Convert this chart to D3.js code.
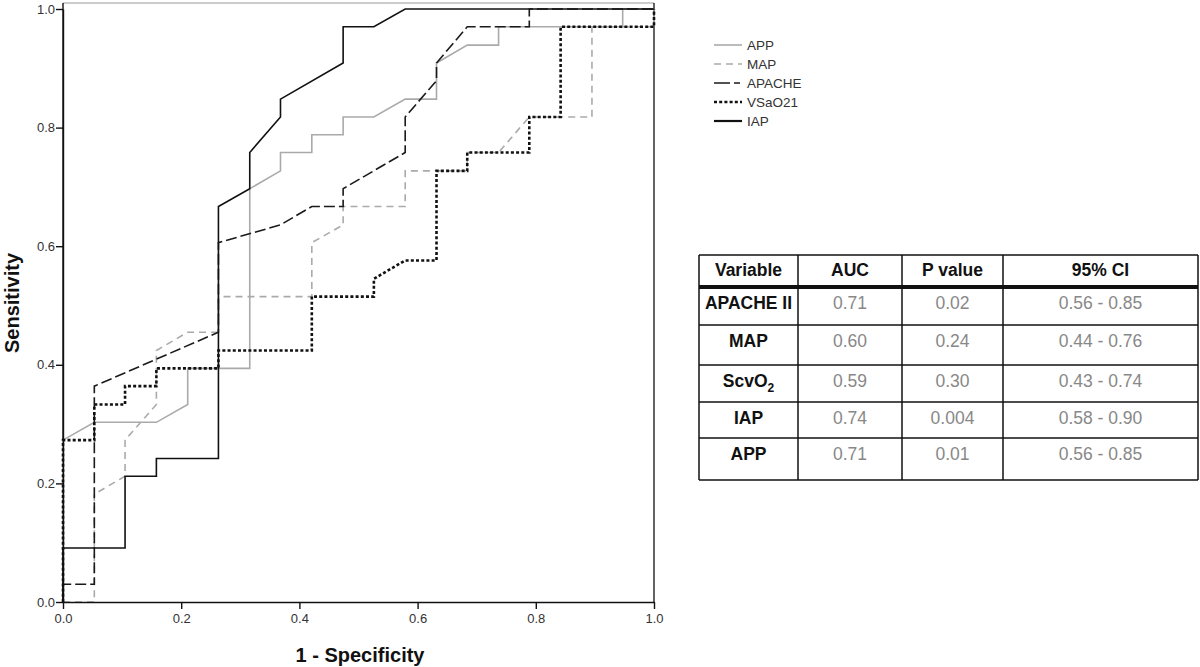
<!DOCTYPE html>
<html>
<head>
<meta charset="utf-8">
<script src="https://cdn.jsdelivr.net/npm/d3@7"></script>
<style>
  body { margin: 0; background: #fff; }
  text { font-family: "Liberation Sans", Arial, sans-serif; }
</style>
</head>
<body>
<svg width="1200" height="667"></svg>
<script>
// ===== data =====
var seriesNames = ["APP", "MAP", "APACHE", "VSaO21", "IAP"];

var appX = [0, 0, 0.053, 0.158, 0.211, 0.211, 0.316, 0.316, 0.368, 0.368, 0.421, 0.421, 0.474, 0.474, 0.526, 0.579, 0.632, 0.632, 0.684, 0.737, 0.737, 0.947, 0.947, 1];
var appY = [0, 0.273, 0.303, 0.303, 0.333, 0.394, 0.394, 0.697, 0.727, 0.758, 0.758, 0.788, 0.788, 0.818, 0.818, 0.848, 0.848, 0.909, 0.939, 0.939, 0.970, 0.970, 1, 1];

var mapX = [0, 0.053, 0.053, 0.105, 0.105, 0.158, 0.158, 0.211, 0.263, 0.263, 0.421, 0.421, 0.474, 0.474, 0.579, 0.579, 0.684, 0.684, 0.737, 0.789, 0.895, 0.895, 1, 1];
var mapY = [0, 0, 0.182, 0.212, 0.273, 0.333, 0.424, 0.455, 0.455, 0.515, 0.515, 0.606, 0.636, 0.667, 0.667, 0.727, 0.727, 0.758, 0.758, 0.818, 0.818, 0.970, 0.970, 1];

var apacheX = [0, 0, 0.053, 0.053, 0.263, 0.263, 0.368, 0.421, 0.474, 0.474, 0.579, 0.579, 0.632, 0.632, 0.684, 0.789, 0.789, 1];
var apacheY = [0, 0.030, 0.030, 0.364, 0.455, 0.606, 0.636, 0.667, 0.667, 0.697, 0.758, 0.818, 0.879, 0.909, 0.970, 0.970, 1, 1];

var vsaX = [0, 0, 0.053, 0.053, 0.105, 0.105, 0.158, 0.158, 0.263, 0.263, 0.421, 0.421, 0.526, 0.526, 0.579, 0.632, 0.632, 0.684, 0.684, 0.789, 0.789, 0.842, 0.842, 1, 1];
var vsaY = [0, 0.273, 0.273, 0.333, 0.333, 0.364, 0.364, 0.394, 0.394, 0.424, 0.424, 0.515, 0.515, 0.545, 0.576, 0.576, 0.727, 0.727, 0.758, 0.758, 0.818, 0.818, 0.970, 0.970, 1];

var iapX = [0, 0, 0.105, 0.105, 0.158, 0.158, 0.263, 0.263, 0.316, 0.316, 0.368, 0.368, 0.474, 0.474, 0.526, 0.579, 1];
var iapY = [0, 0.091, 0.091, 0.212, 0.212, 0.242, 0.242, 0.667, 0.697, 0.758, 0.818, 0.848, 0.909, 0.970, 0.970, 1, 1];

var axisTicks = [0, 0.2, 0.4, 0.6, 0.8, 1.0];

// table
var tableHeader = ["Variable", "AUC", "P value", "95% CI"];
var tableVariables = ["APACHE II", "MAP", "ScvO2", "IAP", "APP"];
var tableAuc = ["0.71", "0.60", "0.59", "0.74", "0.71"];
var tablePValues = ["0.02", "0.24", "0.30", "0.004", "0.01"];
var tableCi = ["0.56 - 0.85", "0.44 - 0.76", "0.43 - 0.74", "0.58 - 0.90", "0.56 - 0.85"];

// ===== styles =====
var styles = {
    "APP":    { color: "#aaaaaa", width: 1.6, dash: null },
    "MAP":    { color: "#aaaaaa", width: 1.6, dash: "7,5" },
    "APACHE": { color: "#1a1a1a", width: 1.6, dash: "11,4" },
    "VSaO21": { color: "#111111", width: 2.6, dash: "3,2.2" },
    "IAP":    { color: "#111111", width: 1.6, dash: null }
};

var svg = d3.select("svg");

var x = d3.scaleLinear().domain([0, 1]).range([63, 654]);
var y = d3.scaleLinear().domain([0, 1]).range([602, 9]);

var seriesX = [appX, mapX, apacheX, vsaX, iapX];
var seriesY = [appY, mapY, apacheY, vsaY, iapY];
var series = seriesNames.map(function(name, i) {
    return {
        name: name,
        points: seriesX[i].map(function(v, j) { return [v, seriesY[i][j]]; })
    };
});

/* ===== frame ===== */
svg.append("line").attr("x1", 63).attr("x2", 654).attr("y1", 3).attr("y2", 3)
    .attr("stroke", "#999").attr("stroke-width", 1.2);
svg.append("line").attr("x1", 654).attr("x2", 654).attr("y1", 3).attr("y2", 602)
    .attr("stroke", "#222").attr("stroke-width", 1.4);
svg.append("line").attr("x1", 63).attr("x2", 63).attr("y1", 3).attr("y2", 602)
    .attr("stroke", "#111").attr("stroke-width", 1.4);

/* ===== curves ===== */
var line = d3.line()
    .x(function(d) { return x(d[0]); })
    .y(function(d) { return y(d[1]); });

svg.append("g").selectAll("path")
    .data(series)
    .enter().append("path")
    .attr("d", function(d) { return line(d.points); })
    .attr("fill", "none")
    .attr("stroke", function(d) { return styles[d.name].color; })
    .attr("stroke-width", function(d) { return styles[d.name].width; })
    .attr("stroke-dasharray", function(d) { return styles[d.name].dash; });

/* ===== axes ===== */
var fmt = d3.format(".1f");

var xAxis = svg.append("g")
    .attr("transform", "translate(0,602)")
    .call(d3.axisBottom(x).tickValues(axisTicks).tickFormat(fmt).tickSize(7).tickSizeOuter(0));

var yAxis = svg.append("g")
    .attr("transform", "translate(63,0)")
    .call(d3.axisLeft(y).tickValues(axisTicks).tickFormat(fmt).tickSize(7).tickSizeOuter(0));

[xAxis, yAxis].forEach(function(a) {
    a.select(".domain").attr("stroke", "#111").attr("stroke-width", 1.4);
    a.selectAll(".tick line").attr("stroke", "#111").attr("stroke-width", 1.4);
    a.selectAll(".tick text")
        .attr("fill", "#333")
        .style("font-size", "13px")
        .style("font-family", "'Liberation Sans', Arial, sans-serif");
});
yAxis.selectAll(".tick text").attr("x", -8);
xAxis.selectAll(".tick text").attr("y", 12);

svg.append("text")
    .attr("x", 360).attr("y", 662)
    .attr("text-anchor", "middle")
    .style("font-size", "20px").style("font-weight", "bold")
    .attr("fill", "#111")
    .text("1 - Specificity");

svg.append("text")
    .attr("transform", "translate(19,303) rotate(-90)")
    .attr("text-anchor", "middle")
    .style("font-size", "20px").style("font-weight", "bold")
    .attr("fill", "#111")
    .text("Sensitivity");

/* ===== legend ===== */
var legend = svg.append("g").selectAll("g")
    .data(seriesNames)
    .enter().append("g")
    .attr("transform", function(d, i) { return "translate(714," + (45 + i * 19) + ")"; });

legend.append("line")
    .attr("x1", 0).attr("x2", 28).attr("y1", 0).attr("y2", 0)
    .attr("stroke", function(d) { return styles[d].color; })
    .attr("stroke-width", function(d) { return styles[d].width + (d === "IAP" ? 0.6 : 0); })
    .attr("stroke-dasharray", function(d) { return d === "APACHE" ? "16,4,6,4" : styles[d].dash; });

legend.append("text")
    .attr("x", 33).attr("y", 0).attr("dy", "0.36em")
    .style("font-size", "13.5px")
    .attr("fill", "#333")
    .text(function(d) { return d; });

/* ===== table ===== */
var colEdges = [699, 798, 902, 1003, 1198];
var rowEdges = [255, 287, 325, 365, 402, 438, 480];
var table = svg.append("g");

table.selectAll(".hline")
    .data(rowEdges)
    .enter().append("line")
    .attr("x1", colEdges[0]).attr("x2", colEdges[colEdges.length - 1])
    .attr("y1", function(d) { return d; }).attr("y2", function(d) { return d; })
    .attr("stroke", "#111")
    .attr("stroke-width", function(d, i) { return i === 1 ? 4 : 1.5; });

table.selectAll(".vline")
    .data(colEdges)
    .enter().append("line")
    .attr("x1", function(d) { return d; }).attr("x2", function(d) { return d; })
    .attr("y1", rowEdges[0]).attr("y2", rowEdges[rowEdges.length - 1])
    .attr("stroke", "#111").attr("stroke-width", 1.5);

function colCenter(c) { return (colEdges[c] + colEdges[c + 1]) / 2; }

table.selectAll(".head")
    .data(tableHeader)
    .enter().append("text")
    .attr("x", function(d, i) { return colCenter(i); })
    .attr("y", rowEdges[0] + 21)
    .attr("text-anchor", "middle")
    .style("font-size", "17.5px").style("font-weight", "bold")
    .attr("fill", "#111")
    .text(function(d) { return d; });

var rows = tableVariables.map(function(v, i) {
    return [v, tableAuc[i], tablePValues[i], tableCi[i]];
});

rows.forEach(function(r, i) {
    var ty = rowEdges[i + 1] + 22;
    r.forEach(function(cell, c) {
        var t = table.append("text")
            .attr("x", colCenter(c))
            .attr("y", ty)
            .attr("text-anchor", "middle")
            .style("font-size", "17.5px")
            .style("font-weight", c === 0 ? "bold" : "normal")
            .attr("fill", c === 0 ? "#111" : "#888");
        if (cell === "ScvO2") {
            t.append("tspan").text("ScvO");
            t.append("tspan").attr("dy", 5).style("font-size", "12px").text("2");
        } else {
            t.text(cell);
        }
    });
});
</script>
</body>
</html>
